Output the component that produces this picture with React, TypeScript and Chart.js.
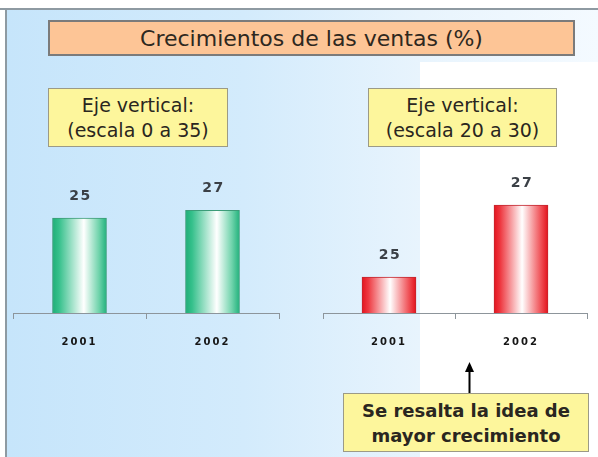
import React, { useEffect, useRef } from "react";
import { Chart, registerables } from "chart.js";

Chart.register(...registerables);

// ---- data ----
const categories = ["2001", "2002"];
const salesGrowth = [25, 27];
const leftAxisRange = [0, 35];
const rightAxisRange = [24, 28];
const titleText = "Crecimientos de las ventas (%)";
const leftNote = ["Eje vertical:", "(escala 0 a 35)"];
const rightNote = ["Eje vertical:", "(escala 20 a 30)"];
const bottomNote = ["Se resalta la idea de", "mayor crecimiento"];

const greenStops: [number, string][] = [
  [0, "#1fae78"],
  [0.12, "#35c08b"],
  [0.58, "#ffffff"],
  [0.86, "#6fd3ab"],
  [1, "#22b27c"],
];
const redStops: [number, string][] = [
  [0, "#e4141e"],
  [0.12, "#ee3a42"],
  [0.52, "#ffffff"],
  [0.86, "#f0545a"],
  [1, "#e3121c"],
];

const BAR_W = 54;
const FONT = '"DejaVu Sans", sans-serif';

const spacingPlugin = {
  id: "letterSpacing",
  beforeDraw(chart: any) {
    (chart.ctx as any).letterSpacing = "2px";
  },
};

const valueLabels = {
  id: "valueLabels",
  afterDatasetsDraw(chart: any) {
    const ctx = chart.ctx;
    const meta = chart.getDatasetMeta(0);
    ctx.save();
    ctx.letterSpacing = "1.5px";
    ctx.font = 'bold 14px "DejaVu Sans"';
    ctx.fillStyle = "#3b4046";
    ctx.textAlign = "center";
    ctx.textBaseline = "middle";
    meta.data.forEach((el: any, i: number) => {
      const v = chart.data.datasets[0].data[i];
      ctx.fillText(String(v), el.x + 1, el.y - 22);
    });
    ctx.restore();
  },
};

function makeConfig(
  stops: [number, string][],
  border: string,
  range: number[],
  padding: { left: number; right: number; top: number; bottom: number }
): any {
  return {
    type: "bar",
    data: {
      labels: categories,
      datasets: [
        {
          data: salesGrowth,
          barThickness: BAR_W,
          borderWidth: 1,
          borderColor: border,
          backgroundColor: (c: any) => {
            const chart = c.chart;
            if (!chart.chartArea || c.dataIndex === undefined) return stops[0][1];
            const cx = chart.scales.x.getPixelForValue(c.dataIndex);
            const g = chart.ctx.createLinearGradient(cx - BAR_W / 2, 0, cx + BAR_W / 2, 0);
            stops.forEach(([o, col]) => g.addColorStop(o, col));
            return g;
          },
        },
      ],
    },
    options: {
      responsive: false,
      animation: false,
      devicePixelRatio: 1,
      layout: { padding },
      plugins: {
        legend: { display: false },
        tooltip: { enabled: false },
        title: { display: false },
      },
      scales: {
        x: {
          offset: true,
          afterFit: (scale: any) => {
            scale.height = 40;
          },
          grid: {
            offset: true,
            drawOnChartArea: false,
            drawTicks: true,
            tickLength: 6,
            color: "#8d959b",
            lineWidth: 1,
          },
          border: { display: true, color: "#8d959b", width: 1 },
          ticks: {
            color: "#161616",
            padding: 17,
            font: { family: "DejaVu Sans", size: 10, weight: "bold" },
          },
        },
        y: {
          display: false,
          min: range[0],
          max: range[1],
        },
      },
    },
    plugins: [spacingPlugin, valueLabels],
  };
}

function BarChart({ config }: { config: any }) {
  const ref = useRef<HTMLCanvasElement | null>(null);
  useEffect(() => {
    if (!ref.current) return;
    const chart = new Chart(ref.current, config);
    return () => chart.destroy();
  }, [config]);
  return (
    <canvas
      ref={ref}
      width={598}
      height={457}
      style={{ position: "absolute", left: 0, top: 0, width: 598, height: 457 }}
    />
  );
}

const leftConfig = makeConfig(greenStops, "#3c9c78", leftAxisRange, {
  left: 13,
  right: 319,
  top: 180,
  bottom: 104,
});
const rightConfig = makeConfig(redStops, "#c3262e", rightAxisRange, {
  left: 323,
  right: 11,
  top: 169,
  bottom: 104,
});

const noteBox = (
  left: number,
  top: number,
  width: number,
  height: number,
  lines: string[],
  bold: boolean,
  size: number
) => (
  <div
    style={{
      position: "absolute",
      left,
      top,
      width,
      height,
      boxSizing: "border-box",
      background: "#fdf69c",
      border: "1.5px solid #9c9a86",
      display: "flex",
      flexDirection: "column",
      justifyContent: "center",
      alignItems: "center",
      fontFamily: FONT,
      fontSize: size,
      fontWeight: bold ? "bold" : "normal",
      lineHeight: "25px",
      color: "#2a2620",
      whiteSpace: "nowrap",
    }}
  >
    {lines.map((l, i) => (
      <div key={i}>{l}</div>
    ))}
  </div>
);

export default function App() {
  return (
    <div
      style={{
        position: "fixed",
        left: 0,
        top: 0,
        width: 598,
        height: 457,
        overflow: "hidden",
        background: "#ffffff",
      }}
    >
      <div
        style={{
          position: "absolute",
          left: 7,
          top: 10,
          right: 0,
          bottom: 0,
          background:
            "linear-gradient(to right, #c6e5fb 0%, #d3ebfc 40%, #e8f4fd 70%, #f4faff 100%)",
        }}
      />
      <div
        style={{
          position: "absolute",
          left: 420,
          top: 62,
          right: 0,
          bottom: 0,
          background: "#ffffff",
        }}
      />
      <div
        style={{
          position: "absolute",
          left: 0,
          top: 8,
          width: 598,
          height: 2,
          background: "#8e9aa2",
        }}
      />
      <div
        style={{
          position: "absolute",
          left: 5,
          top: 8,
          width: 2,
          bottom: 0,
          background: "#8e9aa2",
        }}
      />
      <BarChart config={leftConfig} />
      <BarChart config={rightConfig} />
      <div
        style={{
          position: "absolute",
          left: 48,
          top: 20,
          width: 527,
          height: 36,
          boxSizing: "border-box",
          background: "#fdc596",
          border: "2px solid #7b7b7b",
          display: "flex",
          alignItems: "center",
          justifyContent: "center",
          fontFamily: FONT,
          fontSize: 22,
          color: "#2e2820",
          whiteSpace: "nowrap",
        }}
      >
        {titleText}
      </div>
      {noteBox(48, 88, 180, 59, leftNote, false, 19)}
      {noteBox(368, 88, 189, 59, rightNote, false, 19)}
      {noteBox(343, 393, 246, 59, bottomNote, true, 18)}
      <svg
        style={{ position: "absolute", left: 460, top: 360, width: 20, height: 34 }}
        width={20}
        height={34}
      >
        <line x1={9.5} y1={8} x2={9.5} y2={33} stroke="#000" strokeWidth={2} />
        <polygon points="9.5,2 5,12 14,12" fill="#000" />
      </svg>
    </div>
  );
}
